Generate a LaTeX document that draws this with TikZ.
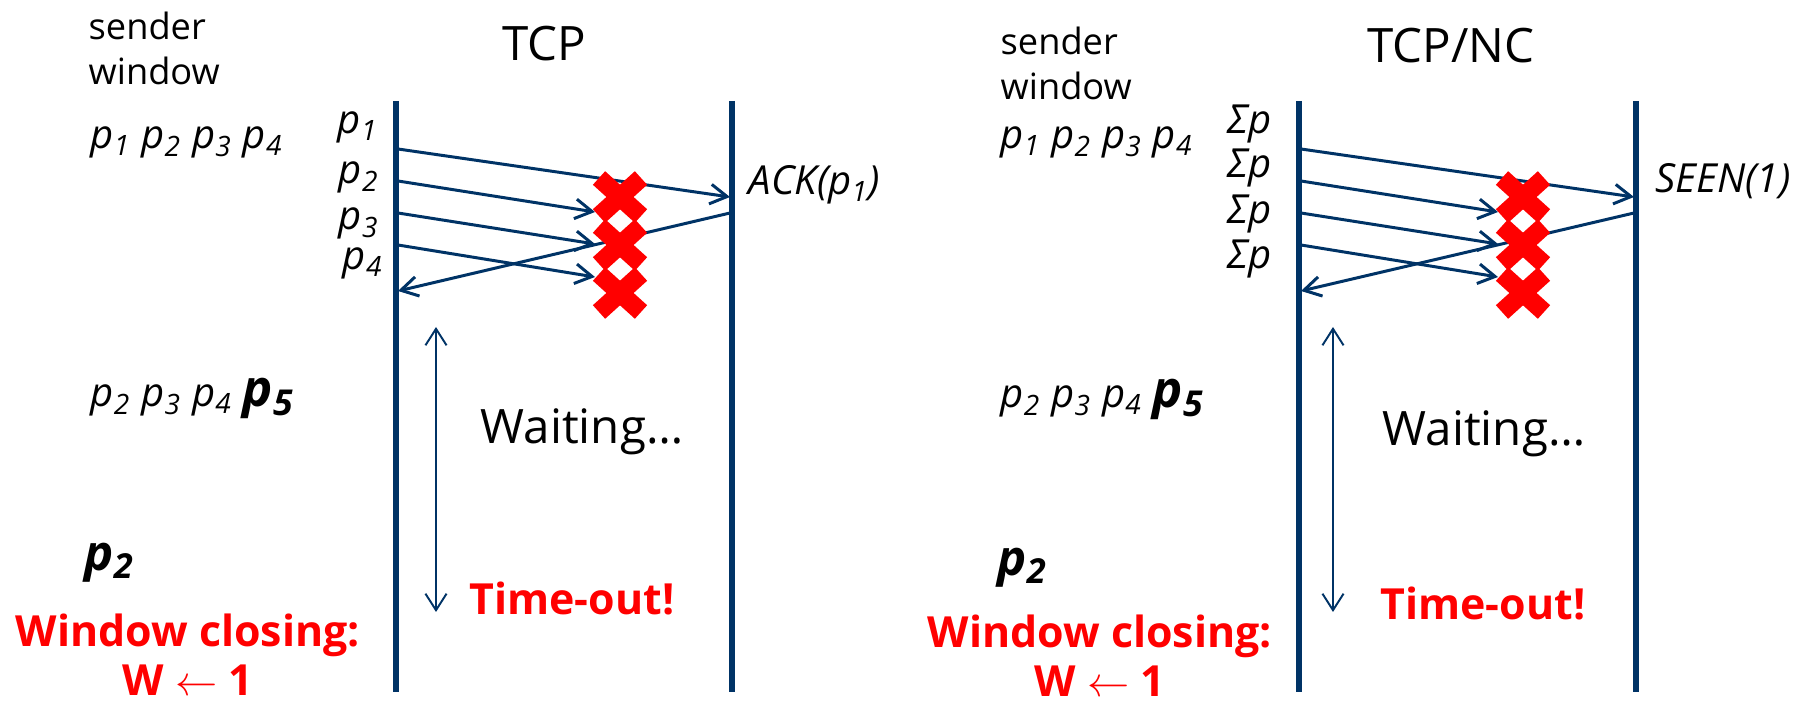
\documentclass[tikz,border=0pt]{standalone}
\usepackage{fontspec}
\setmainfont{Open Sans}
\usetikzlibrary{arrows.meta}

\definecolor{linkblue}{RGB}{0,51,102}
\definecolor{lossred}{RGB}{255,0,0}

% packet name with index
\newcommand{\pkn}[1]{\textit{p}\textsubscript{#1}}

\begin{document}
\begin{tikzpicture}[x=0.1mm, y=-0.1mm]
		\tikzstyle{timeline} = [draw=linkblue, line width=1.6pt]
		\tikzstyle{pkt} = [draw=linkblue, line width=0.85pt, -{Straight Barb[length=4.8pt, width=5.6pt]}]
		\tikzstyle{span} = [draw=linkblue, line width=0.55pt, {Straight Barb[length=4.7pt, width=6pt]}-{Straight Barb[length=4.7pt, width=6pt]}]
		\tikzstyle{lost} = [draw=lossred, line width=5.2pt]
		\tikzstyle{note} = [inner sep=0pt, align=left, font=\fontsize{10.3}{12.8}\selectfont]
		\tikzstyle{title} = [inner sep=0pt, font=\fontsize{13.5}{16}\selectfont]
		\tikzstyle{lbl} = [inner sep=0pt, font=\fontsize{11.4}{13.7}\selectfont\itshape]
		\tikzstyle{big} = [inner sep=0pt, font=\fontsize{14}{16}\selectfont\bfseries\itshape]
		\tikzstyle{alert} = [inner sep=0pt, text=lossred, align=center, font=\fontsize{12.2}{14}\selectfont\bfseries]
		
		\useasboundingbox (0,0) rectangle (1804,704);
		
		% ---- TCP ----
		\node [note, anchor=north west] (sndL) at (88,11) {sender\\window};
		\node [title, anchor=base] (tcpT) at (544,61) {TCP};
		\node [lbl, anchor=base west] (winL1) at (90,149) {\pkn1 \pkn2 \pkn3 \pkn4};
		\node [lbl, anchor=base west] (winL2) at (90,407) {\pkn2 \pkn3 \pkn4 {\fontsize{14.5}{16}\selectfont\bfseries\pkn5}};
		\node [big, anchor=base west] (retxL) at (84,571) {\pkn2};
		\node [alert, anchor=north] (closeL) at (188,613) {Window closing:\\W $\leftarrow$ 1};
		
		\coordinate (sL) at (396,101); \coordinate (sLb) at (396,692);
		\coordinate (rL) at (732,101); \coordinate (rLb) at (732,692);
		\draw [timeline] (sL) -- (sLb);
		\draw [timeline] (rL) -- (rLb);
		
		\node [lbl, anchor=base east] (lp1) at (379,134) {\pkn1};
		\node [lbl, anchor=base east] (lp2) at (380,184) {\pkn2};
		\node [lbl, anchor=base east] (lp3) at (380,230) {\pkn3};
		\node [lbl, anchor=base east] (lp4) at (384,270) {\pkn4};
		\node [lbl, anchor=base west] (ackL) at (748,195) {ACK(\pkn1)};
		
		\coordinate (L1a) at (398,149); \coordinate (L1b) at (730,197);
		\coordinate (L2a) at (398,181); \coordinate (L2b) at (595,212);
		\coordinate (L3a) at (398,213); \coordinate (L3b) at (595,244);
		\coordinate (L4a) at (398,245); \coordinate (L4b) at (595,277);
		\coordinate (LAa) at (730,213); \coordinate (LAb) at (398,291);
		\draw [pkt] (L1a) -- (L1b);
		\draw [pkt] (L2a) -- (L2b);
		\draw [pkt] (L3a) -- (L3b);
		\draw [pkt] (L4a) -- (L4b);
		\draw [pkt] (LAa) -- (LAb);
		
		\draw [lost, shift={(620,197)}] (-21,-19) -- (21,19) (-21,19) -- (21,-19);
		\draw [lost, shift={(620,245)}] (-21,-19) -- (21,19) (-21,19) -- (21,-19);
		\draw [lost, shift={(620,293)}] (-21,-19) -- (21,19) (-21,19) -- (21,-19);
		
		\coordinate (LWa) at (436,327); \coordinate (LWb) at (436,612);
		\draw [span] (LWa) -- (LWb);
		\node [title, anchor=base] (waitL) at (582,444) {Waiting…};
		\node [alert, anchor=base] (toL) at (572,615) {Time-out!};
		
		% ---- TCP/NC ----
		\node [note, anchor=north west] (sndR) at (1000,26) {sender\\window};
		\node [title, anchor=base] (ncT) at (1451,63) {TCP/NC};
		\node [lbl, anchor=base west] (winR1) at (1000,149) {\pkn1 \pkn2 \pkn3 \pkn4};
		\node [lbl, anchor=base west] (winR2) at (1000,408) {\pkn2 \pkn3 \pkn4 {\fontsize{14.5}{16}\selectfont\bfseries\pkn5}};
		\node [big, anchor=base west] (retxR) at (997,576) {\pkn2};
		\node [alert, anchor=north] (closeR) at (1100,614) {Window closing:\\W $\leftarrow$ 1};
		
		\coordinate (sR) at (1299,101); \coordinate (sRb) at (1299,692);
		\coordinate (rR) at (1636,101); \coordinate (rRb) at (1636,692);
		\draw [timeline] (sR) -- (sRb);
		\draw [timeline] (rR) -- (rRb);
		
		\node [lbl, anchor=base east] (rp1) at (1272,134) {Σp};
		\node [lbl, anchor=base east] (rp2) at (1272,178) {Σp};
		\node [lbl, anchor=base east] (rp3) at (1272,224) {Σp};
		\node [lbl, anchor=base east] (rp4) at (1272,269) {Σp};
		\node [lbl, anchor=base west] (seenR) at (1655,193) {SEEN(1)};
		
		\coordinate (R1a) at (1301,149); \coordinate (R1b) at (1634,197);
		\coordinate (R2a) at (1301,181); \coordinate (R2b) at (1498,212);
		\coordinate (R3a) at (1301,213); \coordinate (R3b) at (1498,244);
		\coordinate (R4a) at (1301,245); \coordinate (R4b) at (1498,277);
		\coordinate (RAa) at (1634,213); \coordinate (RAb) at (1301,291);
		\draw [pkt] (R1a) -- (R1b);
		\draw [pkt] (R2a) -- (R2b);
		\draw [pkt] (R3a) -- (R3b);
		\draw [pkt] (R4a) -- (R4b);
		\draw [pkt] (RAa) -- (RAb);
		
		\draw [lost, shift={(1523,197)}] (-21,-19) -- (21,19) (-21,19) -- (21,-19);
		\draw [lost, shift={(1523,245)}] (-21,-19) -- (21,19) (-21,19) -- (21,-19);
		\draw [lost, shift={(1523,293)}] (-21,-19) -- (21,19) (-21,19) -- (21,-19);
		
		\coordinate (RWa) at (1333,327); \coordinate (RWb) at (1333,612);
		\draw [span] (RWa) -- (RWb);
		\node [title, anchor=base] (waitR) at (1484,446) {Waiting…};
		\node [alert, anchor=base] (toR) at (1483,620) {Time-out!};
\end{tikzpicture}
\end{document}
